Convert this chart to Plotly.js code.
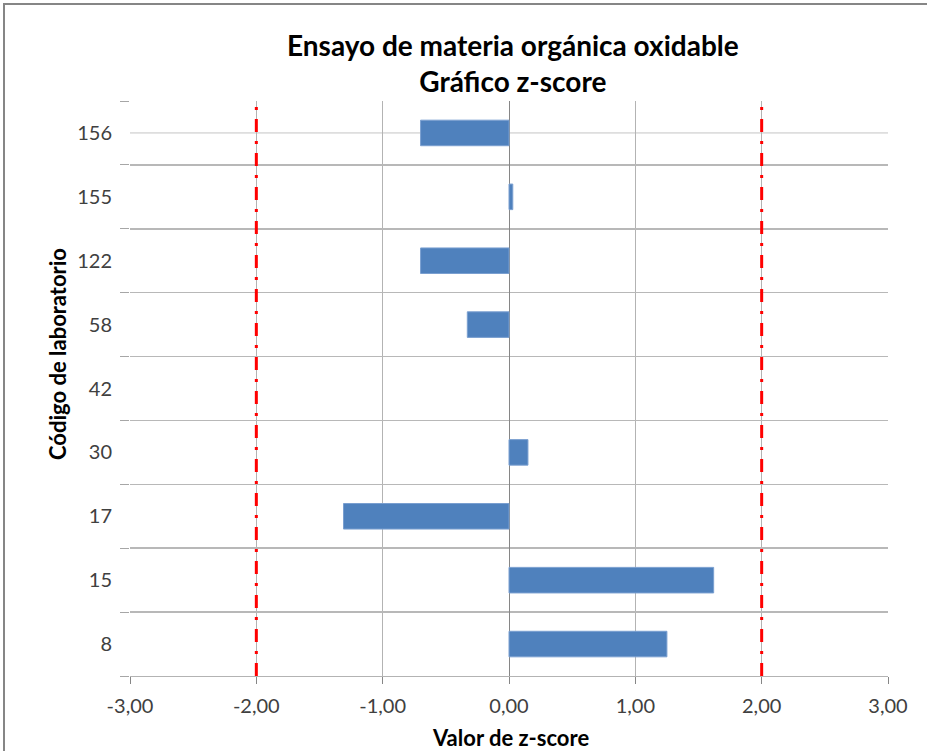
<!DOCTYPE html>
<html>
<head>
<meta charset="utf-8">
<script src="https://cdn.plot.ly/plotly-3.0.1.min.js"></script>
<style>html,body{margin:0;padding:0;background:#fff;}#chart{width:927px;height:751px;}</style>
</head>
<body>
<div id="chart"></div>
<script>
const labs = ['8', '15', '17', '30', '42', '58', '122', '155', '156'];
const zscores = [1.25, 1.62, -1.31, 0.15, null, -0.33, -0.70, 0.03, -0.70];
const limits = [-2, 2];
const xTicks = [-3, -2, -1, 0, 1, 2, 3];
const xTickText = ['-3,00', '-2,00', '-1,00', '0,00', '1,00', '2,00', '3,00'];
const chartTitle = 'Ensayo de materia orgánica oxidable<br>Gráfico z-score';
const xTitle = 'Valor de z-score';
const yTitle = 'Código de laboratorio';

const FONT = 'Lato, "Open Sans", sans-serif';
const PX = v => (v - 130) / 758;      // pixel x -> paper
const PY = v => (676 - v) / 575;      // pixel y -> paper

const traces = [{
  type: 'bar',
  orientation: 'h',
  y: labs,
  x: zscores,
  width: 0.4,
  marker: {color: '#4F81BD', line: {color: '#7a9fd0', width: 1}},
  hoverinfo: 'x+y'
}];

const shapes = [];
// chart border
shapes.push({type: 'rect', xref: 'paper', yref: 'paper',
  x0: PX(4), x1: 1.3, y0: -0.5, y1: PY(4),
  line: {color: '#868686', width: 2}, fillcolor: 'rgba(0,0,0,0)', layer: 'below'});
// centre lines of each category
labs.forEach(c => shapes.push({type: 'line', xref: 'paper', yref: 'y',
  x0: 0, x1: 1, y0: c, y1: c, line: {color: '#c4c4c4', width: 1}, layer: 'below'}));
// limit lines
limits.forEach(v => shapes.push({type: 'line', xref: 'x', yref: 'paper',
  x0: v, x1: v, y0: 0, y1: 1.005, line: {color: '#ff0000', width: 3, dash: '13px,9px,3px,9px'}}));

const layout = {
  width: 927, height: 751,
  margin: {l: 130, r: 39, t: 101, b: 75},
  paper_bgcolor: '#ffffff', plot_bgcolor: '#ffffff',
  showlegend: false,
  bargap: 0.6,
  xaxis: {
    range: [-3, 3], tickvals: xTicks, ticktext: xTickText,
    showgrid: true, gridcolor: '#b3b3b3', gridwidth: 1,
    zeroline: true, zerolinecolor: '#868686', zerolinewidth: 1,
    showline: true, linecolor: '#b3b3b3', linewidth: 1,
    ticks: 'outside', ticklen: 7, tickcolor: '#868686',
    tickfont: {family: FONT, size: 20, color: '#404040'},
    ticklabelstandoff: 5,
    fixedrange: true
  },
  yaxis: {
    type: 'category', categoryorder: 'array', categoryarray: labs,
    range: [-0.5, labs.length - 0.5],
    tickson: 'boundaries', ticks: 'outside', ticklen: 9, tickcolor: '#a6a6a6',
    showgrid: true, gridcolor: '#b8b8b8', gridwidth: 1.5,
    showline: false, zeroline: false,
    tickfont: {family: FONT, size: 20, color: '#404040'},
    ticklabelstandoff: 17,
    fixedrange: true
  },
  shapes: shapes,
  annotations: [
    {text: chartTitle, xref: 'paper', yref: 'paper', x: PX(513), y: PY(63),
     xanchor: 'center', yanchor: 'middle', showarrow: false,
     font: {family: FONT, size: 28, color: '#000', weight: 'bold'}},
    {text: xTitle, xref: 'paper', yref: 'paper', x: PX(510), y: PY(737),
     xanchor: 'center', yanchor: 'middle', showarrow: false,
     font: {family: FONT, size: 22, color: '#000', weight: 'bold'}},
    {text: yTitle, xref: 'paper', yref: 'paper', x: PX(57), y: PY(354),
     xanchor: 'center', yanchor: 'middle', showarrow: false, textangle: -90,
     font: {family: FONT, size: 22, color: '#000', weight: 'bold'}}
  ]
};

Plotly.newPlot('chart', traces, layout, {displayModeBar: false, staticPlot: true});
</script>
</body>
</html>
